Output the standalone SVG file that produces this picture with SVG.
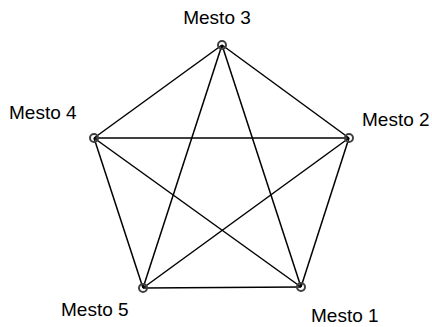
<svg xmlns="http://www.w3.org/2000/svg" width="432" height="327" viewBox="0 0 432 327">
<style>
.e{stroke:#000;stroke-width:1.5;fill:none}
.n{stroke:#404040;stroke-width:2;fill:none}
.t{font-family:"Liberation Sans",Arial,sans-serif;font-size:19px;fill:#000}
</style>
<rect width="432" height="327" fill="#fff"/>
<g id="connectors">
<line class="e" x1="222" y1="45" x2="349" y2="138"/>
<line class="e" x1="349" y1="138" x2="301" y2="287"/>
<line class="e" x1="301" y1="287" x2="143" y2="288"/>
<line class="e" x1="143" y1="288" x2="94" y2="138"/>
<line class="e" x1="94" y1="138" x2="222" y2="45"/>
<line class="e" x1="222" y1="45" x2="143" y2="288"/>
<line class="e" x1="222" y1="45" x2="301" y2="287"/>
<line class="e" x1="94" y1="138" x2="349" y2="138"/>
<line class="e" x1="94" y1="138" x2="301" y2="287"/>
<line class="e" x1="349" y1="138" x2="143" y2="288"/>
</g>
<g id="mesto3"><circle class="n" cx="222" cy="45" r="4"/><text class="t" x="217" y="24" text-anchor="middle">Mesto 3</text></g>
<g id="mesto4"><circle class="n" cx="94" cy="138" r="4"/><text class="t" x="9" y="119">Mesto 4</text></g>
<g id="mesto2"><circle class="n" cx="349" cy="138" r="4"/><text class="t" x="362" y="126">Mesto 2</text></g>
<g id="mesto5"><circle class="n" cx="143" cy="288" r="4"/><text class="t" x="61" y="316">Mesto 5</text></g>
<g id="mesto1"><circle class="n" cx="301" cy="287" r="4"/><text class="t" x="311" y="322">Mesto 1</text></g>
</svg>
